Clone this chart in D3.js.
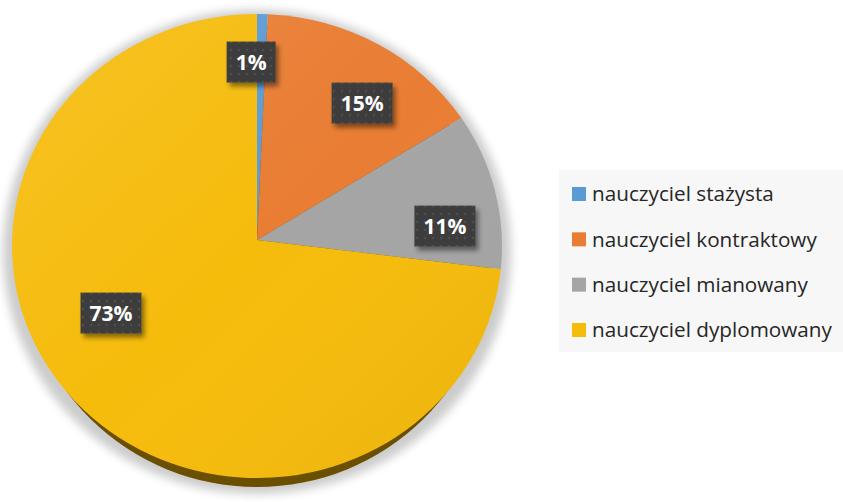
<!doctype html>
<html>
<head>
    <meta charset="utf-8">
    <title>Nauczyciele - stopnie awansu</title>
    <script src="https://cdn.jsdelivr.net/npm/d3@7"></script>
    <style>
        body { margin: 0; background: #fff; }
        svg { display: block; }
    </style>
</head>
<body>
<svg id="chart" width="843" height="502"></svg>
<script>
// data (share of teachers, %)
var categories = ['nauczyciel stażysta', 'nauczyciel kontraktowy', 'nauczyciel mianowany', 'nauczyciel dyplomowany'];
var values = [0.7, 15.0, 10.9, 73.4];
var colors = ['#5b9bd5', '#e97d33', '#a5a5a5', '#f6bc0c'];

// label box centres, in units of the pie radius, relative to the pie apex
var labelOffsets = [[-0.024, -0.767], [0.429, -0.59], [0.767, -0.06], [-0.596, 0.315]];

var svg = d3.select('#chart');

var cx = 257, cy = 246,     // centre of the ellipse (top face)
    apexY = 240,            // where the slices meet
    rx = 245, ry = 232,
    depth = 10;

var defs = svg.append('defs');

var shadow = defs.append('filter').attr('id', 'pieShadow')
    .attr('x', '-10%').attr('y', '-10%').attr('width', '120%').attr('height', '125%');
shadow.append('feGaussianBlur').attr('stdDeviation', 5);

var boxShadow = defs.append('filter').attr('id', 'boxShadow')
    .attr('x', '-20%').attr('y', '-20%').attr('width', '150%').attr('height', '160%');
boxShadow.append('feDropShadow').attr('dx', 3).attr('dy', 4).attr('stdDeviation', 2.5)
    .attr('flood-color', '#000').attr('flood-opacity', 0.45);

var dots = defs.append('pattern').attr('id', 'dots')
    .attr('patternUnits', 'userSpaceOnUse').attr('width', 8).attr('height', 8);
dots.append('rect').attr('width', 8).attr('height', 8).attr('fill', '#3d3d3d');
dots.append('circle').attr('cx', 4).attr('cy', 4).attr('r', 1.3).attr('fill', '#4e4e4e');

var light = defs.append('linearGradient').attr('id', 'light')
    .attr('x1', 0).attr('y1', 0).attr('x2', 1).attr('y2', 1);
light.append('stop').attr('offset', 0).attr('stop-color', '#fff').attr('stop-opacity', 0.10);
light.append('stop').attr('offset', 0.5).attr('stop-color', '#fff').attr('stop-opacity', 0);
light.append('stop').attr('offset', 1).attr('stop-color', '#000').attr('stop-opacity', 0.06);

// soft shadow around and under the disc
svg.append('ellipse')
    .attr('cx', cx).attr('cy', cy + 6)
    .attr('rx', rx + 9).attr('ry', ry + 10)
    .attr('fill', '#000').attr('opacity', 0.2)
    .attr('filter', 'url(#pieShadow)');

// side of the disc (only the front edge shows)
svg.append('ellipse')
    .attr('cx', cx).attr('cy', cy + depth)
    .attr('rx', rx - 10).attr('ry', ry - 1)
    .attr('fill', '#6a4f00');

var pie = d3.pie().sort(null).value(function(d) { return d; });
var arcs = pie(values);

function pt(a) {
    return [cx + rx * Math.sin(a), cy - ry * Math.cos(a)];
}

function slicePath(d) {
    var p0 = pt(d.startAngle), p1 = pt(d.endAngle);
    var large = (d.endAngle - d.startAngle) > Math.PI ? 1 : 0;
    return 'M' + cx + ',' + apexY +
        'L' + p0[0] + ',' + p0[1] +
        'A' + rx + ',' + ry + ' 0 ' + large + ' 1 ' + p1[0] + ',' + p1[1] + 'Z';
}

svg.append('g').selectAll('path')
    .data(arcs)
    .join('path')
    .attr('d', slicePath)
    .attr('fill', function(d, i) { return colors[i]; });

// subtle lighting over the top face
svg.append('ellipse')
    .attr('cx', cx).attr('cy', cy)
    .attr('rx', rx).attr('ry', ry)
    .attr('fill', 'url(#light)');

// data labels
var pct = d3.format('.0f');
var labels = svg.append('g').selectAll('g')
    .data(arcs)
    .join('g')
    .attr('transform', function(d, i) {
        var o = labelOffsets[i];
        return 'translate(' + (cx + o[0] * rx) + ',' + (apexY + o[1] * ry) + ')';
    });

labels.append('rect').attr('class', 'box')
    .attr('fill', 'url(#dots)')
    .attr('filter', 'url(#boxShadow)');

labels.append('text')
    .attr('text-anchor', 'middle')
    .attr('dy', '0.36em')
    .attr('fill', '#fff')
    .style('font-family', '"Open Sans", Lato, sans-serif')
    .style('font-weight', 700)
    .style('font-size', '21px')
    .text(function(d) { return pct(d.value) + '%'; });

labels.each(function() {
    var g = d3.select(this);
    var w = g.select('text').node().getComputedTextLength();
    g.select('rect')
        .attr('x', -w / 2 - 9).attr('y', -20.5)
        .attr('width', w + 18).attr('height', 41);
});

// legend
var legend = svg.append('g').attr('transform', 'translate(559,170)');
legend.append('rect')
    .attr('width', 284).attr('height', 182)
    .attr('fill', '#f7f7f7');

var rowY = d3.scalePoint().domain(categories).range([24, 160]);

var items = legend.selectAll('g.item')
    .data(categories)
    .join('g').attr('class', 'item')
    .attr('transform', function(d) { return 'translate(13,' + rowY(d) + ')'; });

items.append('rect')
    .attr('x', 0).attr('y', -7)
    .attr('width', 14).attr('height', 14)
    .attr('fill', function(d, i) { return colors[i]; });

items.append('text')
    .attr('x', 20).attr('dy', '0.35em')
    .attr('fill', '#262626')
    .style('font-family', '"Open Sans", sans-serif')
    .style('font-size', '17px')
    .text(function(d) { return d; });

// fit the legend font to the width seen in the reference
var first = items.select('text').node();
var fs = 17 * 182 / first.getComputedTextLength();
items.selectAll('text').style('font-size', fs + 'px');
</script>
</body>
</html>
